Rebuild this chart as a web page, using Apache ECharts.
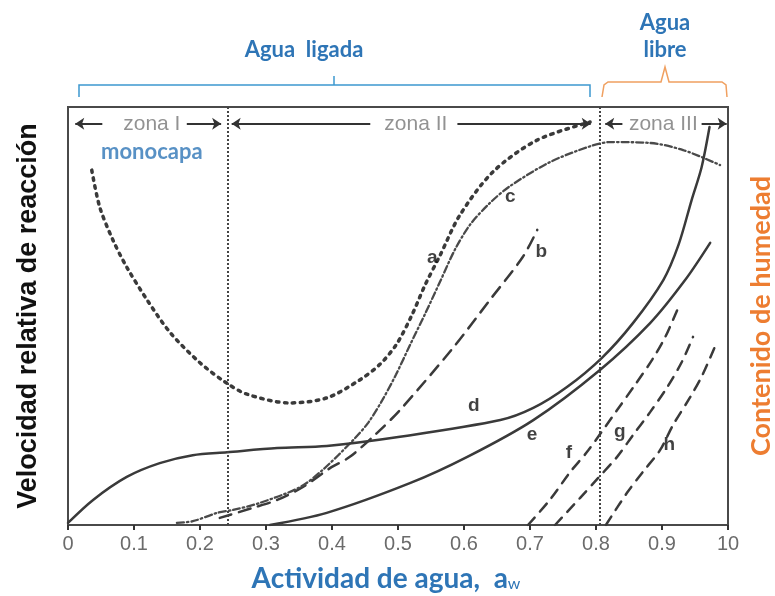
<!DOCTYPE html>
<html>
<head>
<meta charset="utf-8">
<script src="https://cdn.jsdelivr.net/npm/echarts@6/dist/echarts.min.js"></script>
<style>
html,body{margin:0;padding:0;background:#fff;}
#chart{width:775px;height:596px;}
</style>
</head>
<body>
<div id="chart"></div>
<script>
// ---- data (x = actividad de agua, y = velocidad relativa 0-100) ----
const tickLabels = ['0','0.1','0.2','0.3','0.4','0.5','0.6','0.7','0.8','0.9','10'];

const curveA = [[0.036,84.9],[0.048,76.1],[0.068,68.2],[0.089,61.7],[0.120,53.8],[0.155,46.0],[0.200,38.8],[0.238,34.2],[0.271,31.3],[0.336,29.2],[0.392,30.4],[0.442,34.7],[0.473,38.5],[0.498,43.3],[0.521,50.2],[0.541,57.4],[0.564,64.6],[0.594,74.2],[0.644,84.5],[0.711,92.1],[0.791,96.4]];
const curveB = [[0.230,1.7],[0.280,4.1],[0.317,6.0],[0.356,9.1],[0.397,13.6],[0.427,16.3],[0.468,22.0],[0.503,27.5],[0.583,42.3],[0.639,53.8],[0.689,64.1],[0.711,70.6]];
const curveC = [[0.165,0.5],[0.189,0.9],[0.226,2.9],[0.250,3.6],[0.291,5.3],[0.352,9.1],[0.386,13.2],[0.432,20.3],[0.455,24.5],[0.476,29.8],[0.497,36.0],[0.518,43.0],[0.541,50.5],[0.564,58.3],[0.586,65.8],[0.609,71.8],[0.639,77.0],[0.670,81.1],[0.730,86.8],[0.791,90.6],[0.821,91.6],[0.882,91.4],[0.932,89.7],[0.988,86.1]];
const curveD = [[0.0,0.5],[0.038,6.0],[0.089,11.5],[0.139,14.8],[0.189,16.7],[0.241,17.4],[0.317,18.4],[0.392,18.9],[0.503,21.1],[0.655,25.1],[0.705,28.0],[0.756,33.0],[0.809,40.0],[0.856,48.3],[0.902,58.6],[0.925,67.0],[0.945,77.8],[0.960,85.6],[0.972,95.2]];
const curveE = [[0.306,0.0],[0.392,2.9],[0.518,10.0],[0.605,16.3],[0.705,25.1],[0.806,37.1],[0.882,48.3],[0.935,58.6],[0.973,67.5]];
const lineF = [[0.697,0.0],[0.730,6.0],[0.761,12.7],[0.788,17.8],[0.832,27.5],[0.859,33.5],[0.885,39.5],[0.905,45.0],[0.923,51.4]];
const lineG = [[0.738,0.0],[0.776,6.5],[0.803,11.2],[0.832,16.3],[0.856,21.5],[0.882,27.0],[0.908,33.0],[0.930,39.0],[0.947,45.0]];
const lineH = [[0.815,0.0],[0.847,7.7],[0.871,12.7],[0.897,17.9],[0.917,24.0],[0.942,30.4],[0.961,35.8],[0.980,42.6]];

const curveLabels = [[0.552,63.9,'a'],[0.717,65.3,'b'],[0.670,78.5,'c'],[0.615,28.5,'d'],[0.703,21.5,'e'],[0.759,17.2,'f'],[0.836,22.2,'g'],[0.911,19.1,'h']];
const zoneLabels = [[0.127,96,'zona I'],[0.527,96,'zona II'],[0.902,96,'zona III']];
const zoneArrows = [[[0.052,96],[0.011,96]],[[0.180,96],[0.232,96]],[[0.458,96],[0.248,96]],[[0.590,96],[0.792,96]],[[0.840,96],[0.814,96]],[[0.960,96],[0.998,96]]];
const zoneBounds = [0.242, 0.806];
const monocapaPos = [0.127, 89.2];

const blue = '#2e75b6';
const dark = '#3a3a3a';

const chart = echarts.init(document.getElementById('chart'), null, {renderer:'canvas'});

function lineSeries(name, data, type, width, color) {
  return {
    name, type:'line', data, smooth:0.3, symbol:'none', z:3,
    lineStyle:{color:color || dark, width:width, type:type, cap:'round'}
  };
}

const option = {
  animation:false,
  backgroundColor:'#fff',
  grid:{left:68, right:47, top:107, bottom:71, show:true, borderColor:'#4a4a4a', borderWidth:2,
        containLabel:false, outerBoundsMode:'none'},
  xAxis:{
    type:'value', min:0, max:1, interval:0.1,
    axisLine:{show:true, lineStyle:{color:'#4a4a4a', width:2}},
    axisTick:{show:true, length:5, lineStyle:{color:'#333', width:2}},
    splitLine:{show:false},
    axisLabel:{color:'#6b6b6b', fontSize:20, fontFamily:'Liberation Sans, Arial', margin:9,
      showMinLabel:true, showMaxLabel:true,
      formatter:v=>tickLabels[Math.round(v*10)]},
    name:'{t|Actividad de agua,  }{a|a}{w|w}',
    nameLocation:'middle', nameGap:40,
    nameTextStyle:{padding:[0,24,0,0], rich:{
      t:{color:blue, fontSize:28, fontWeight:'bold', fontFamily:'Lato'},
      a:{color:blue, fontSize:28, fontWeight:'bold', fontFamily:'Lato'},
      w:{color:blue, fontSize:16, fontFamily:'Lato', padding:[10,0,0,0]}
    }}
  },
  yAxis:[{
    type:'value', min:0, max:100,
    axisLine:{show:true, lineStyle:{color:'#4a4a4a', width:2}},
    axisTick:{show:false}, axisLabel:{show:false}, splitLine:{show:false},
    name:'Velocidad relativa de reacción', nameLocation:'middle', nameRotate:90, nameGap:26,
    nameTextStyle:{color:'#111', fontSize:27, fontWeight:'bold', fontFamily:'Liberation Sans, Arial'}
  },{
    type:'value', min:0, max:100, position:'right',
    axisLine:{show:false}, axisTick:{show:false}, axisLabel:{show:false}, splitLine:{show:false},
    name:'Contenido de humedad', nameLocation:'middle', nameRotate:90, nameGap:20,
    nameTextStyle:{color:'#ed7d31', fontSize:27, fontWeight:'bold', fontFamily:'Lato'}
  }],
  series:[
    lineSeries('a', curveA, [2.5,5.5], 3.5),
    lineSeries('b', curveB, [12,8], 2.5),
    lineSeries('c', curveC, [7,3,1.5,3], 2.3, '#4a4a4a'),
    lineSeries('d', curveD, 'solid', 2.5),
    lineSeries('e', curveE, 'solid', 2.5),
    lineSeries('f', lineF, [10,8], 2.5),
    lineSeries('g', lineG, [10,8], 2.5),
    lineSeries('h', lineH, [10,8], 2.5),
    {
      name:'marcas', type:'line', data:[], symbol:'none',
      markLine:{
        silent:true, symbol:'none', animation:false,
        label:{show:false},
        lineStyle:{color:'#444', width:2, type:[2,2]},
        data: zoneBounds.map(x=>[{coord:[x,0]},{coord:[x,100]}])
      }
    },
    {
      name:'flechas', type:'line', data:[], symbol:'none',
      markLine:{
        silent:true, symbol:['none','arrow'], symbolSize:[9,9], animation:false,
        label:{show:false},
        lineStyle:{color:'#333', width:2, type:'solid'},
        data: zoneArrows.map(p=>[{coord:p[0]},{coord:p[1]}])
      }
    },
    {
      name:'curvas', type:'scatter', symbolSize:0, data:curveLabels, z:5,
      label:{show:true, position:'inside', formatter:p=>p.value[2], color:'#111', fontSize:19, fontWeight:'bold', fontFamily:'Liberation Sans, Arial'}
    },
    {
      name:'zonas', type:'scatter', symbolSize:0, data:zoneLabels, z:5,
      label:{show:true, position:'inside', formatter:p=>p.value[2], color:'#777', fontSize:21, fontFamily:'Liberation Sans, Arial'}
    },
    {
      name:'monocapa', type:'scatter', symbolSize:0, data:[[monocapaPos[0],monocapaPos[1],'monocapa']], z:5,
      label:{show:true, position:'inside', formatter:p=>p.value[2], color:blue, fontSize:22, fontWeight:'bold', fontFamily:'Lato'}
    }
  ],
  graphic:[
    {type:'polyline', shape:{points:[[79,97],[79,85],[590,85],[590,97]]}, style:{stroke:'#3c98cf', lineWidth:1.5, fill:null}},
    {type:'line', shape:{x1:334,y1:85,x2:334,y2:76}, style:{stroke:'#3c98cf', lineWidth:1.5}},
    {type:'text', style:{text:'Agua  ligada', x:304, y:50, align:'center', verticalAlign:'middle', fill:blue, font:'bold 22px Lato'}},
    {type:'polyline', shape:{points:[[602,97],[604,85],[608,82],[661,82],[665,67],[669,82],[722,82],[726,85],[727,97]]}, style:{stroke:'#f0a060', lineWidth:1.5, fill:null}},
    {type:'text', style:{text:'Agua', x:665, y:23, align:'center', verticalAlign:'middle', fill:blue, font:'bold 22px Lato'}},
    {type:'text', style:{text:'libre', x:665, y:50, align:'center', verticalAlign:'middle', fill:blue, font:'bold 22px Lato'}}
  ]
};
chart.setOption(option);
</script>
</body>
</html>
